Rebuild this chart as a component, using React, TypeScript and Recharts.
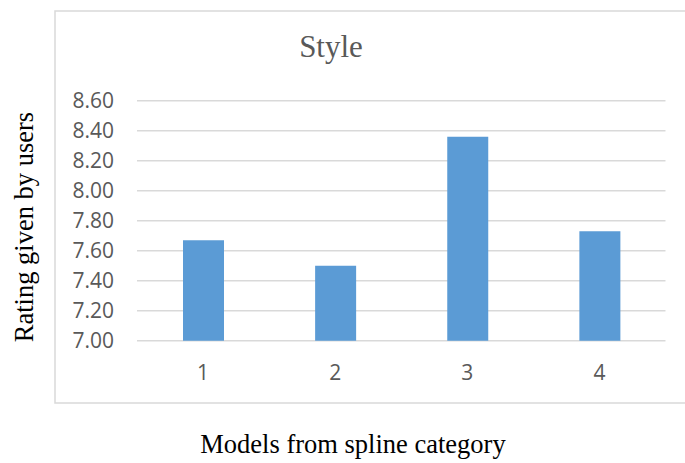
import React from 'react';
import { BarChart, Bar, XAxis, YAxis, CartesianGrid } from 'recharts';

const categories = ['1', '2', '3', '4'];
const ratings = [7.67, 7.5, 8.36, 7.73];
const yTicks = [7.0, 7.2, 7.4, 7.6, 7.8, 8.0, 8.2, 8.4, 8.6];
const chartTitle = 'Style';
const xTitle = 'Models from spline category';
const yTitle = 'Rating given by users';

const data = categories.map((c, i) => ({ model: c, rating: ratings[i] }));

const tickStyle = { fill: '#595959', fontSize: 21, fontFamily: 'Open Sans' };

export default function App() {
  return (
    <div style={{ position: 'absolute', left: 0, top: 0, width: 685, height: 463, background: '#fff' }}>
      <BarChart
        width={685}
        height={463}
        data={data}
        margin={{ top: 100.7, right: 19.5, bottom: 62.3, left: 0 }}
      >
        <rect x={55} y={11} width={640} height={392} fill="none" stroke="#d9d9d9" strokeWidth={1.5} />
        <CartesianGrid vertical={false} stroke="#d9d9d9" strokeWidth={1.5} />
        <XAxis
          dataKey="model"
          axisLine={false}
          tickLine={false}
          tickSize={0}
          tickMargin={24}
          height={60}
          interval={0}
          tick={tickStyle}
        />
        <YAxis
          type="number"
          domain={[7, 8.6]}
          ticks={yTicks}
          interval={0}
          width={137}
          axisLine={false}
          tickLine={false}
          tickSize={0}
          tickMargin={23}
          tick={tickStyle}
          tickFormatter={(v: number) => v.toFixed(2)}
        />
        <Bar dataKey="rating" fill="#5b9bd5" barSize={41} isAnimationActive={false} />
        <text x={331} y={57} textAnchor="middle" fill="#595959" fontSize={31} fontFamily="Liberation Serif">
          {chartTitle}
        </text>
        <text x={353} y={453} textAnchor="middle" fill="#000" fontSize={26.5} fontFamily="Liberation Serif">
          {xTitle}
        </text>
        <text
          x={33}
          y={227}
          textAnchor="middle"
          fill="#000"
          fontSize={26.5}
          fontFamily="Liberation Serif"
          transform="rotate(-90 33 227)"
        >
          {yTitle}
        </text>
      </BarChart>
    </div>
  );
}
